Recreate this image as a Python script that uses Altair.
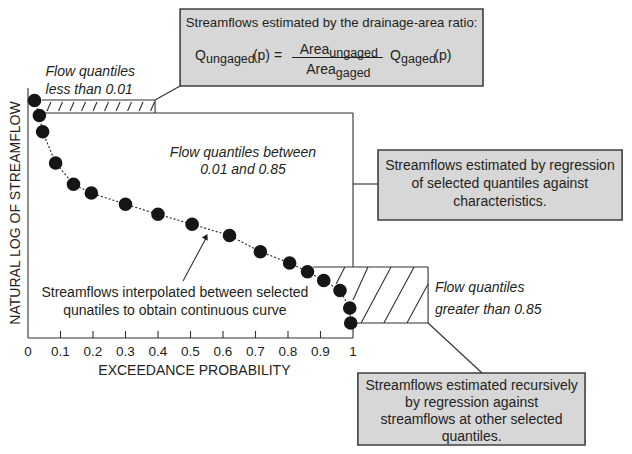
import altair as alt
import pandas as pd

# ---------------- data ----------------
exceed_prob = [0.02, 0.035, 0.045, 0.085, 0.14, 0.195, 0.30, 0.40, 0.505,
               0.62, 0.715, 0.805, 0.86, 0.91, 0.96, 0.99, 0.993]
log_flow = [9.5, 8.9, 8.25, 7.0, 6.15, 5.8, 5.35, 4.95, 4.55,
            4.1, 3.45, 3.0, 2.65, 2.3, 1.9, 1.2, 0.6]
tick_values = [0, 0.1, 0.2, 0.3, 0.4, 0.5, 0.6, 0.7, 0.8, 0.9, 1]
tick_labels = ["0", "0.1", "0.2", "0.3", "0.4", "0.5", "0.6", "0.7", "0.8", "0.9", "1"]

x_title = "EXCEEDANCE PROBABILITY"
y_title = "NATURAL LOG OF STREAMFLOW"

box_top_title = "Streamflows estimated by the drainage-area ratio:"
box_right_lines = ["Streamflows estimated by regression",
                   "of selected quantiles against",
                   "characteristics."]
box_bottom_lines = ["Streamflows estimated recursively",
                    "by regression against",
                    "streamflows at other selected",
                    "quantiles."]
interp_lines = ["Streamflows interpolated between selected",
                "qunatiles to obtain continuous curve"]
lab_low = ["Flow quantiles", "less than 0.01"]
lab_mid = ["Flow quantiles between", "0.01 and 0.85"]
lab_high = ["Flow quantiles", "greater than 0.85"]

# ---------------- layout (data units) ----------------
XD = [-0.061538, 1.833846]
YD = [-4.32, 13.2]
xs = alt.Scale(domain=XD, nice=False, zero=False)
ys = alt.Scale(domain=YD, nice=False, zero=False)
FONT = "Liberation Sans"
INK = "#231f20"

segments = [
    (0, 0, 1, 0), (0, 0, 0, 10), (1, 0, 1, 0.6),
    (0.043, 9.52, 0.391, 9.52), (0.391, 9.0, 0.391, 9.52),
    (0.043, 9.0, 1.0, 9.0), (1.0, 9.0, 1.0, 2.84),
    (0.877, 2.84, 1.231, 2.84), (1.231, 2.84, 1.231, 0.6), (1.0, 0.6, 1.231, 0.6),
    (0.391, 9.52, 0.468, 10.08), (1.0, 6.16, 1.077, 6.16), (1.231, 0.6, 1.397, -1.4),
    (0.477, 2.28, 0.550, 4.05),
    (0.948, 2.16, 0.975, 2.84), (1.0, 1.52, 1.046, 2.84), (1.025, 0.6, 1.117, 2.84),
    (1.095, 0.6, 1.188, 2.84), (1.166, 0.6, 1.231, 2.16),
]
for t in tick_values[1:-1]:
    segments.append((t, 0, t, 0.28))
for i in range(10):
    x0 = 0.0585 + i * 0.0354
    segments.append((x0, 9.08, x0 + 0.0123, 9.44))
seg_df = pd.DataFrame(segments, columns=["x", "y", "x2", "y2"])

boxes_df = pd.DataFrame([
    (0.468, 13.16, 1.400, 10.08),
    (1.077, 7.52, 1.828, 4.72),
    (1.015, -1.4, 1.714, -4.28),
], columns=["x", "y", "x2", "y2"])

curve_df = pd.DataFrame({"p": exceed_prob, "q": log_flow})

center_txt = pd.DataFrame(
    [(1.452, y, t) for y, t in zip([6.88, 6.16, 5.44], box_right_lines)]
    + [(1.365, y, t) for y, t in zip([-1.92, -2.6, -3.28, -3.96], box_bottom_lines)]
    + [(0.452, y, t) for y, t in zip([1.8, 1.08], interp_lines)]
    + [(0.512, -1.32, x_title)],
    columns=["x", "y", "t"])
top_title_df = pd.DataFrame([(0.934, 12.6, box_top_title)], columns=["x", "y", "t"])

ital_left = pd.DataFrame(
    [(0.054, y, t) for y, t in zip([10.64, 9.94], lab_low)]
    + [(1.252, y, t) for y, t in zip([2.0, 1.12], lab_high)],
    columns=["x", "y", "t"])
ital_center = pd.DataFrame(
    [(0.6615, y, t) for y, t in zip([7.4, 6.72], lab_mid)],
    columns=["x", "y", "t"])

formula_main = pd.DataFrame([
    (0.514, 11.12, "Q"), (0.692, 11.12, "(p) ="),
    (0.836, 11.38, "Area"), (0.856, 10.58, "Area"),
    (1.114, 11.12, "Q"),
], columns=["x", "y", "t"])
formula_sub = pd.DataFrame([
    (0.548, 11.0, "ungaged"), (0.927, 11.26, "ungaged"),
    (0.947, 10.46, "gaged"), (1.148, 11.0, "gaged"),
], columns=["x", "y", "t"])
formula_tail = pd.DataFrame([(1.250, 11.12, "(p)")], columns=["x", "y", "t"])
frac_bar = pd.DataFrame([(0.812, 11.22, 1.092, 11.22)], columns=["x", "y", "x2", "y2"])

ticks_df = pd.DataFrame({"x": tick_values, "t": tick_labels, "y": [-0.56] * len(tick_values)})
ytitle_df = pd.DataFrame([(-0.036, 5.0, y_title)], columns=["x", "y", "t"])
arrow_df = pd.DataFrame([(0.548, 4.06)], columns=["x", "y"])


def X(f="x"):
    return alt.X(f"{f}:Q", scale=xs, axis=None)


def Y(f="y"):
    return alt.Y(f"{f}:Q", scale=ys, axis=None)


def txt(df, size=14, align="center", baseline="middle", **kw):
    return alt.Chart(df).mark_text(font=FONT, fontSize=size, color=INK, align=align,
                                   baseline=baseline, **kw).encode(x=X(), y=Y(), text="t:N")


boxes = alt.Chart(boxes_df).mark_rect(fill="#d7d7d7", stroke="#404040", strokeWidth=1.6).encode(
    x=X(), x2="x2:Q", y=Y(), y2="y2:Q")

rules = alt.Chart(seg_df).mark_rule(color="#303030", strokeWidth=1.1).encode(
    x=X(), x2="x2:Q", y=Y(), y2="y2:Q")

bar = alt.Chart(frac_bar).mark_rule(color=INK, strokeWidth=1.1).encode(
    x=X(), x2="x2:Q", y=Y(), y2="y2:Q")

curve = alt.Chart(curve_df).mark_line(color="#222222", strokeWidth=1.1, strokeDash=[2, 2]).encode(
    x=alt.X("p:Q", scale=xs, axis=None), y=alt.Y("q:Q", scale=ys, axis=None), order="p:Q")

pts = alt.Chart(curve_df).mark_circle(size=185, color="#151515", opacity=1).encode(
    x=alt.X("p:Q", scale=xs, axis=None), y=alt.Y("q:Q", scale=ys, axis=None))

arrow = alt.Chart(arrow_df).mark_point(shape="triangle-up", filled=True, size=45, angle=28,
                                       color="#202020", opacity=1).encode(x=X(), y=Y())

chart = alt.layer(
    boxes, rules, bar, curve, pts, arrow,
    txt(center_txt),
    txt(top_title_df, size=13.2),
    txt(ital_left, align="left", fontStyle="italic"),
    txt(ital_center, fontStyle="italic"),
    txt(formula_main, align="left", baseline="alphabetic"),
    txt(formula_sub, size=12.5, align="left", baseline="alphabetic"),
    txt(formula_tail, align="left", baseline="alphabetic"),
    txt(ticks_df, size=13.5),
    txt(ytitle_df, angle=270),
).properties(
    width=616, height=438, padding=0,
    autosize=alt.AutoSizeParams(type="none"),
    background="white",
).configure_view(stroke=None)

chart.save("out.html", embed_options={"renderer": "svg", "actions": False})
